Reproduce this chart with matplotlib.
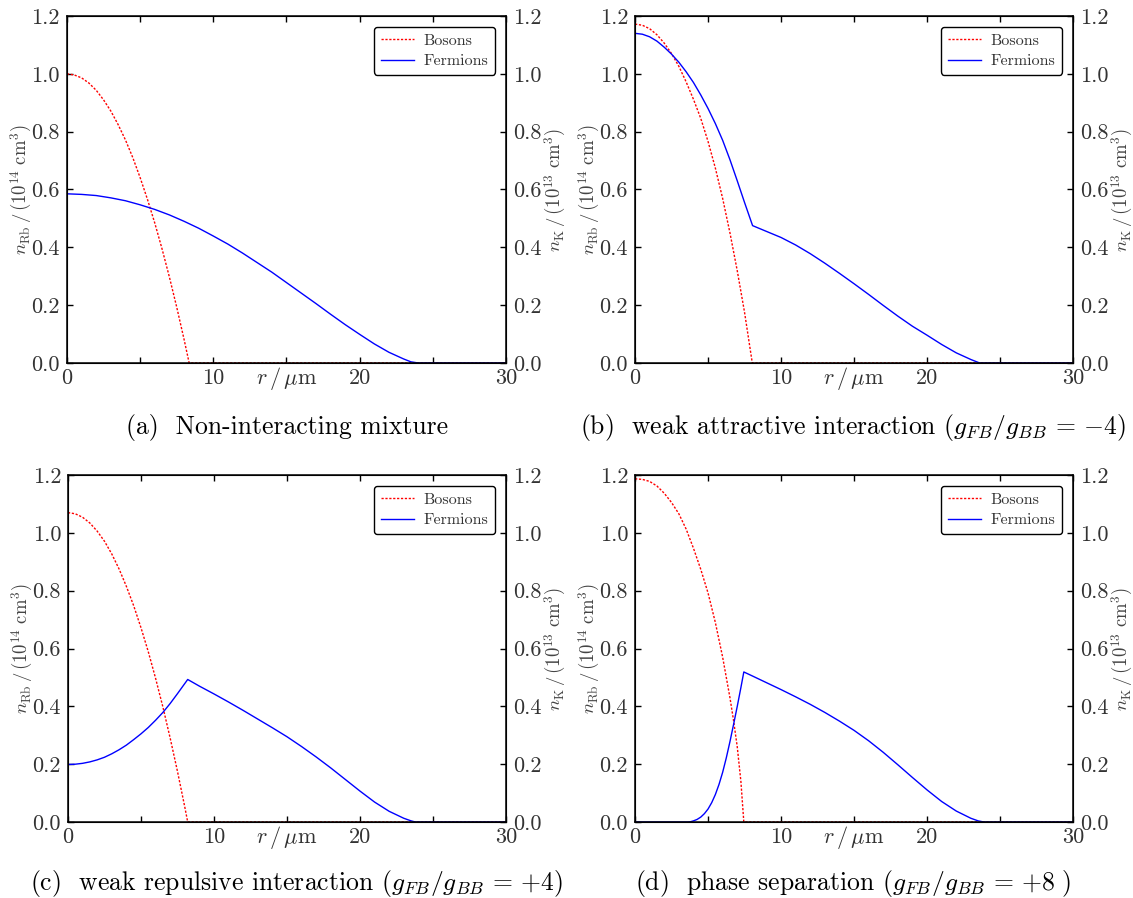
import numpy as np
import matplotlib
matplotlib.use("Agg")
import matplotlib.pyplot as plt
from matplotlib.ticker import FormatStrFormatter

plt.rcParams['font.family'] = 'serif'
plt.rcParams['font.serif'] = ['cmr10']
plt.rcParams['mathtext.fontset'] = 'cm'
plt.rcParams['axes.unicode_minus'] = False

# (a) non-interacting mixture
r_bos_a = [0, 0.5, 1, 1.5, 2, 2.5, 3, 3.5, 4, 4.5, 5, 5.5, 6, 6.5, 7, 7.5, 8, 8.35, 30]
n_bos_a = [1.0, 0.996, 0.986, 0.968, 0.943, 0.910, 0.871, 0.824, 0.771, 0.710, 0.641,
           0.566, 0.484, 0.394, 0.297, 0.193, 0.082, 0.0, 0.0]
r_fer_a = [0, 1, 2, 3, 4, 5, 6, 7, 8, 9, 10, 11, 12, 13, 14, 15, 16, 17, 18, 19,
           20, 21, 22, 23, 23.5, 24, 30]
n_fer_a = [0.585, 0.583, 0.579, 0.571, 0.561, 0.547, 0.531, 0.512, 0.490, 0.466,
           0.439, 0.411, 0.380, 0.347, 0.314, 0.278, 0.242, 0.206, 0.169, 0.133,
           0.099, 0.066, 0.037, 0.014, 0.004, 0.0, 0.0]

# (b) weak attractive interaction
r_bos_b = [0, 0.5, 1, 1.5, 2, 2.5, 3, 3.5, 4, 4.5, 5, 5.5, 6, 6.5, 7, 7.5, 8.03, 30]
n_bos_b = [1.172, 1.168, 1.156, 1.135, 1.106, 1.07, 1.026, 0.972, 0.912, 0.846, 0.766,
           0.674, 0.569, 0.45, 0.319, 0.175, 0.0, 0.0]
r_fer_b = [0, 0.5, 1, 1.5, 2, 2.5, 3, 3.5, 4, 4.5, 5, 5.5, 6, 6.5, 7, 7.5, 8.05,
           9, 10, 11, 12, 13, 14, 15, 16, 17, 18, 19, 20, 21, 22, 23, 23.3, 23.6, 30]
n_fer_b = [1.14, 1.137, 1.128, 1.113, 1.092, 1.068, 1.04, 1.007, 0.97, 0.927, 0.88,
           0.828, 0.77, 0.703, 0.63, 0.555, 0.475,
           0.455, 0.434, 0.408, 0.378, 0.345, 0.31, 0.274, 0.237, 0.199, 0.162,
           0.127, 0.096, 0.064, 0.035, 0.012, 0.006, 0.0, 0.0]

# (c) weak repulsive interaction
r_bos_c = [0, 0.5, 1, 1.5, 2, 2.5, 3, 3.5, 4, 4.5, 5, 5.5, 6, 6.5, 7, 7.5, 8, 8.2, 30]
n_bos_c = [1.07, 1.066, 1.054, 1.034, 1.006, 0.971, 0.927, 0.875, 0.815, 0.748, 0.672,
           0.589, 0.497, 0.398, 0.290, 0.175, 0.052, 0.0, 0.0]
r_fer_c = [0, 0.5, 1, 1.5, 2, 2.5, 3, 3.5, 4, 4.5, 5, 5.5, 6, 6.5, 7, 7.5, 8.2,
           9, 10, 11, 12, 13, 14, 15, 16, 17, 18, 19, 20, 21, 22, 23, 23.5, 23.8, 30]
n_fer_c = [0.199, 0.2, 0.203, 0.208, 0.215, 0.224, 0.236, 0.25, 0.266, 0.285, 0.305,
           0.327, 0.352, 0.379, 0.41, 0.444, 0.493,
           0.470, 0.443, 0.415, 0.386, 0.356, 0.326, 0.295, 0.261, 0.225, 0.187,
           0.147, 0.107, 0.069, 0.037, 0.013, 0.004, 0.0, 0.0]

# (d) phase separation
r_bos_d = [0, 0.5, 1, 1.5, 2, 2.5, 3, 3.5, 4, 4.5, 5, 5.5, 6, 6.5, 6.75, 7, 7.25, 7.45, 30]
n_bos_d = [1.187, 1.185, 1.178, 1.162, 1.137, 1.105, 1.066, 1.013, 0.947, 0.874, 0.792,
           0.69, 0.57, 0.43, 0.35, 0.26, 0.14, 0.0, 0.0]
r_fer_d = [0, 3.6, 3.8, 4.0, 4.25, 4.5, 4.75, 5.0, 5.25, 5.5, 5.75, 6.0, 6.25, 6.5,
           6.75, 7.0, 7.25, 7.45, 8, 9, 10, 11, 12, 13, 14, 15, 16, 17, 18, 19, 20,
           21, 22, 23, 23.5, 23.9, 30]
n_fer_d = [0.0, 0.0, 0.001, 0.004, 0.009, 0.017, 0.029, 0.045, 0.067, 0.095, 0.13,
           0.172, 0.222, 0.278, 0.338, 0.40, 0.465, 0.519, 0.506, 0.482, 0.458,
           0.433, 0.407, 0.379, 0.349, 0.317, 0.281, 0.241, 0.198, 0.154, 0.111,
           0.071, 0.038, 0.013, 0.004, 0.0, 0.0]

captions = [
    "(a)  Non-interacting mixture",
    r"(b)  weak attractive interaction $(g_{FB}/g_{BB}\,=\,{-4})$",
    r"(c)  weak repulsive interaction $(g_{FB}/g_{BB}\,=\,{+4})$",
    r"(d)  phase separation $(g_{FB}/g_{BB}\,=\,{+8}\ )$",
]

x_ticks = [0, 5, 10, 15, 20, 25, 30]
x_tick_labels = ['0', '', '10', '', '20', '', '30']
y_ticks = [0.0, 0.2, 0.4, 0.6, 0.8, 1.0, 1.2]

tick_col = '#333333'


def draw_panel(fig, rect, r_b, n_b, r_f, n_f, caption, cap_pos):
    ax = fig.add_axes(rect)
    ax.plot(r_b, n_b, color='#ff0000', lw=1.0, dashes=(1.6, 1.2), label='Bosons')
    ax.plot(r_f, n_f, color='#0000ff', lw=1.0, label='Fermions')
    ax.set_xlim(0, 30)
    ax.set_ylim(0, 1.2)
    ax.set_xticks(x_ticks)
    ax.set_xticklabels(x_tick_labels)
    ax.set_yticks(y_ticks)
    ax.yaxis.set_major_formatter(FormatStrFormatter('%.1f'))
    ax.tick_params(direction='in', length=4, width=1, labelsize=16,
                   labelcolor=tick_col, top=True, pad=5)
    ax.tick_params(axis='x', pad=4)
    for s in ax.spines.values():
        s.set_linewidth(1.1)
    ax.set_ylabel(r'$n_{\rm Rb}\,/\,(10^{14}\ {\rm cm}^3)$', fontsize=13.5,
                  color='#444444', labelpad=-1.5)
    ax.text(0.5, -0.045, r'$r\,/\,\mu{\rm m}$', transform=ax.transAxes,
            ha='center', va='center', fontsize=16, color=tick_col)
    leg = ax.legend(loc='upper right', fontsize=11.5, fancybox=True, framealpha=1,
                    edgecolor='black', handlelength=2.1, handletextpad=0.6,
                    borderaxespad=0.7, labelspacing=0.4, borderpad=0.4)
    leg.get_frame().set_linewidth(1.0)
    for t in leg.get_texts():
        t.set_color('#333333')

    ax2 = ax.twinx()
    ax2.set_ylim(0, 1.2)
    ax2.set_yticks(y_ticks)
    ax2.yaxis.set_major_formatter(FormatStrFormatter('%.1f'))
    ax2.tick_params(direction='in', length=4, width=1, labelsize=16,
                    labelcolor=tick_col, pad=5)
    ax2.set_ylabel(r'$n_{\rm K}\,/\,(10^{13}\ {\rm cm}^3)$', fontsize=13.5,
                   color='#444444', labelpad=1)

    fig.text(cap_pos[0], cap_pos[1], caption, ha='center', va='center', fontsize=18.5)
    return ax


fig = plt.figure(figsize=(11.33, 8.98), dpi=100)

draw_panel(fig, [0.0591, 0.5958, 0.3875, 0.3864], r_bos_a, n_bos_a, r_fer_a, n_fer_a,
           captions[0], (0.253, 0.5234))
draw_panel(fig, [0.5605, 0.5958, 0.3866, 0.3864], r_bos_b, n_bos_b, r_fer_b, n_fer_b,
           captions[1], (0.753, 0.5234))
draw_panel(fig, [0.0600, 0.0846, 0.3866, 0.3864], r_bos_c, n_bos_c, r_fer_c, n_fer_c,
           captions[2], (0.262, 0.0167))
draw_panel(fig, [0.5605, 0.0846, 0.3866, 0.3864], r_bos_d, n_bos_d, r_fer_d, n_fer_d,
           captions[3], (0.753, 0.0167))

fig.savefig('out.png', dpi=100)
